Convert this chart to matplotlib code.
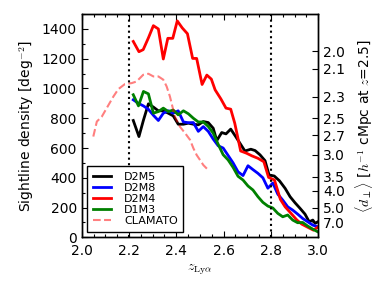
import numpy as np
import matplotlib.pyplot as plt
from matplotlib.ticker import MultipleLocator

plt.rcParams['mathtext.fontset'] = 'cm'
plt.rcParams['font.size'] = 10
plt.rcParams['xtick.direction'] = 'in'
plt.rcParams['ytick.direction'] = 'in'

# -----------------------------
# Data
# -----------------------------
# D2M5 (black)
z_d2m5 = [2.218, 2.242, 2.261, 2.282, 2.303, 2.324, 2.345, 2.366, 2.387, 2.408,
          2.430, 2.451, 2.472, 2.493, 2.514, 2.535, 2.556, 2.571, 2.592, 2.610,
          2.630, 2.651, 2.669, 2.690, 2.715, 2.733, 2.754, 2.775, 2.792, 2.814,
          2.836, 2.860, 2.881, 2.902, 2.923, 2.944, 2.962, 2.977, 2.987, 2.998]
n_d2m5 = [785, 677, 787, 897, 875, 850, 850, 834, 816, 760,
          760, 767, 760, 756, 778, 771, 733, 650, 704, 695,
          727, 677, 632, 580, 592, 583, 554, 515, 419, 412,
          380, 329, 273, 232, 195, 156, 104, 116, 94, 104]

# common grid for D2M8 / D1M3
z_grid = [2.218, 2.240, 2.261, 2.282, 2.303, 2.324, 2.345, 2.366, 2.387, 2.408,
          2.430, 2.451, 2.472, 2.493, 2.514, 2.535, 2.556, 2.577, 2.598, 2.619,
          2.640, 2.661, 2.682, 2.703, 2.724, 2.745, 2.766, 2.787, 2.808, 2.829,
          2.850, 2.871, 2.892, 2.913, 2.934, 2.956, 2.977, 2.998]
n_d2m8 = [924, 900, 883, 860, 820, 785, 834, 850, 834, 850,
          775, 770, 771, 712, 744, 712, 660, 615, 600, 550,
          500, 440, 415, 481, 455, 430, 400, 330, 365, 290,
          250, 205, 183, 156, 127, 104, 82, 71]
n_d1m3 = [958, 883, 980, 964, 834, 845, 868, 845, 855, 823,
          850, 830, 800, 775, 775, 745, 700, 625, 555, 520,
          470, 410, 385, 345, 318, 273, 235, 210, 197, 161,
          138, 150, 116, 98, 100, 75, 55, 37]

# D2M4 (red)
z_d2m4 = [2.218, 2.242, 2.260, 2.282, 2.303, 2.324, 2.345, 2.364, 2.385, 2.404,
          2.425, 2.447, 2.469, 2.486, 2.509, 2.529, 2.548, 2.564, 2.588, 2.610,
          2.630, 2.647, 2.672, 2.697, 2.720, 2.745, 2.770, 2.790, 2.815, 2.840,
          2.860, 2.885, 2.910, 2.930, 2.960, 2.980, 3.000]
n_d2m4 = [1316, 1247, 1261, 1340, 1422, 1400, 1198, 1337, 1337, 1454,
          1407, 1368, 1202, 1202, 1027, 1090, 1063, 991, 931, 868,
          861, 767, 580, 565, 547, 531, 508, 403, 385, 255,
          205, 161, 116, 89, 64, 48, 71]

# CLAMATO (dashed)
z_clamato = [2.049, 2.064, 2.085, 2.110, 2.134, 2.155, 2.183, 2.211, 2.232, 2.260,
             2.282, 2.303, 2.324, 2.345, 2.359, 2.373, 2.394, 2.415, 2.437, 2.458,
             2.472, 2.486, 2.500, 2.514, 2.535]
n_clamato = [677, 778, 811, 880, 946, 996, 1030, 1036, 1047, 1092,
             1099, 1081, 1081, 1059, 1014, 946, 811, 744, 700, 655,
             599, 553, 520, 486, 452]

# right axis: mean transverse separation
d_ticks = [2.0, 2.1, 2.3, 2.5, 2.7, 3.0, 3.5, 4.0, 5.0, 7.0]
chi_z25 = 4050.0                       # h^-1 Mpc at z=2.5
mpc_per_deg = chi_z25 * np.pi / 180.0

# -----------------------------
# Plot
# -----------------------------
fig = plt.figure(figsize=(3.9, 2.93), dpi=100)
ax = fig.add_axes([0.2095, 0.19, 0.6065, 0.762])

ax.plot(z_d2m5, n_d2m5, color='k', lw=2, label='D2M5')
ax.plot(z_grid, n_d2m8, color='b', lw=2, label='D2M8')
ax.plot(z_d2m4, n_d2m4, color='r', lw=2, label='D2M4')
ax.plot(z_grid, n_d1m3, color='g', lw=2, label='D1M3')
ax.plot(z_clamato, n_clamato, color='r', alpha=0.5, lw=1.5, ls='--', label='CLAMATO')

ax.axvline(2.2, color='k', ls=':', lw=1.5)
ax.axvline(2.8, color='k', ls=':', lw=1.5)

ax.set_xlim(2.0, 3.0)
ax.set_ylim(0, 1500)
ax.xaxis.set_major_locator(MultipleLocator(0.2))
ax.xaxis.set_minor_locator(MultipleLocator(0.05))
ax.yaxis.set_minor_locator(MultipleLocator(100))
ax.set_yticks(np.arange(0, 1401, 200))
ax.tick_params(which='both', top=True, right=False)
ax.tick_params(which='major', length=4, width=0.8)
ax.tick_params(which='minor', length=2, width=0.8)
ax.tick_params(axis='x', which='major', pad=5)

ax.set_xlabel(r'$z_{\rm Ly\alpha}$', labelpad=3)
ax.set_ylabel(r'Sightline density [deg$^{-2}$]', labelpad=4)

leg = ax.legend(loc='lower left', fontsize=8, fancybox=False, edgecolor='k',
                framealpha=1, handlelength=1.6, handletextpad=1.2,
                labelspacing=0.1, borderpad=0.5)
leg.get_frame().set_linewidth(1.0)

ax2 = ax.twinx()
ax2.set_ylim(ax.get_ylim())
ax2.set_yticks([(mpc_per_deg / d) ** 2 for d in d_ticks])
ax2.set_yticklabels(['%.1f' % d for d in d_ticks])
ax2.tick_params(which='major', direction='in', length=4, width=0.8)
ax2.set_ylabel(r'$\langle d_\perp \rangle$ [$h^{-1}$ cMpc at $z$=2.5]', labelpad=6)

for a in (ax, ax2):
    for s in a.spines.values():
        s.set_linewidth(1.0)

fig.savefig('out.png', dpi=100)
